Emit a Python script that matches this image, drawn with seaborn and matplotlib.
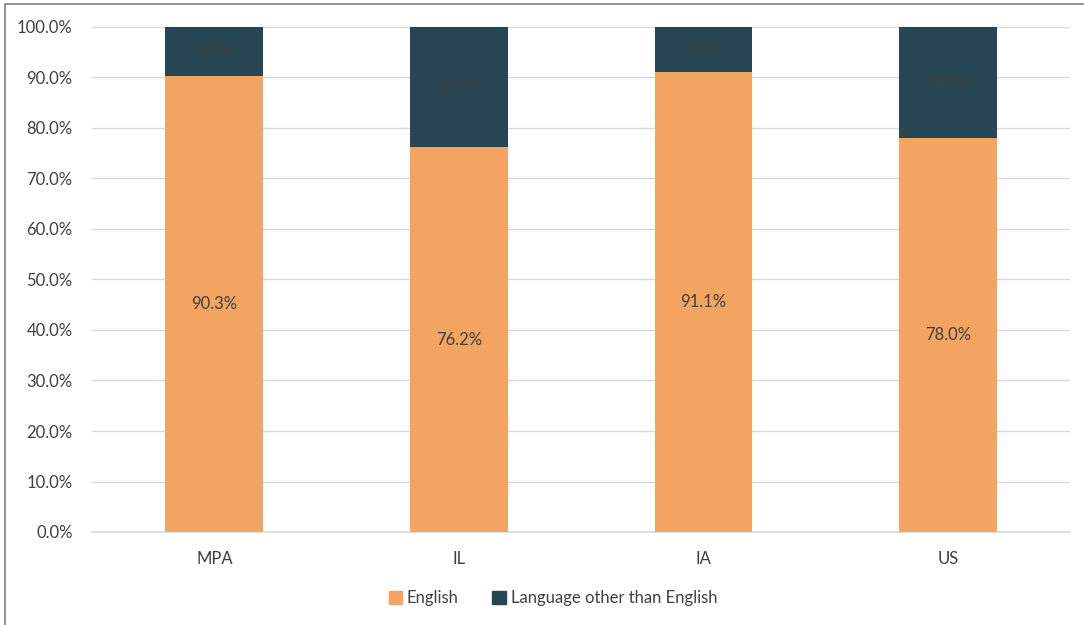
import matplotlib
matplotlib.use('Agg')
import matplotlib.pyplot as plt
import seaborn as sns
import pandas as pd
from matplotlib.patches import Patch, Rectangle
from matplotlib.ticker import FuncFormatter

# values (percent)
regions = ['MPA', 'IL', 'IA', 'US']
english = [90.3, 76.2, 91.1, 78.0]
other_lang = [9.7, 23.8, 8.9, 22.0]

orange = '#F3A461'
dark = '#264653'
text_col = '#404040'

sns.set_theme(style='white')
plt.rcParams['font.family'] = ['Lato', 'DejaVu Sans']

df = pd.DataFrame({'region': regions, 'english': english, 'other': other_lang})
df['total'] = df['english'] + df['other']

fig = plt.figure(figsize=(10.84, 6.25), dpi=100)
ax = fig.add_axes([0.0849, 0.1488, 0.9025, 0.808])

# stacked bars: the full stack in dark, English drawn over it
sns.barplot(data=df, x='region', y='total', color=dark, width=0.4,
            saturation=1, ax=ax, zorder=2, edgecolor='none', linewidth=0)
sns.barplot(data=df, x='region', y='english', color=orange, width=0.4,
            saturation=1, ax=ax, zorder=3, edgecolor='none', linewidth=0)

for i, row in df.iterrows():
    ax.text(i, row['english'] / 2, f"{row['english']:.1f}%", ha='center', va='center',
            fontsize=12, color=text_col, zorder=4)
    ax.text(i, row['english'] + row['other'] / 2, f"{row['other']:.1f}%", ha='center',
            va='center', fontsize=12, color=text_col, zorder=4)

ax.set_ylim(0, 100)
ax.set_xlim(-0.5, 3.5)
ax.set_yticks(range(0, 101, 10))
ax.yaxis.set_major_formatter(FuncFormatter(lambda v, p: f'{v:.1f}%'))
ax.grid(axis='y', color='#D9D9D9', linewidth=1, zorder=0)
ax.set_axisbelow(True)
for s in ['top', 'right', 'left']:
    ax.spines[s].set_visible(False)
ax.spines['bottom'].set_color('#D9D9D9')
ax.spines['bottom'].set_linewidth(1.2)
ax.tick_params(axis='both', length=0, labelsize=12, labelcolor=text_col)
ax.tick_params(axis='x', pad=14)
ax.tick_params(axis='y', pad=14)
ax.set_xlabel('')
ax.set_ylabel('')

handles = [Patch(color=orange, label='English'),
           Patch(color=dark, label='Language other than English')]
fig.legend(handles=handles, loc='center', bbox_to_anchor=(0.51, 0.043), ncol=2,
           frameon=False, fontsize=12, handlelength=0.8, handleheight=0.8,
           handletextpad=0.3, columnspacing=2.0, labelcolor=text_col)

# outer chart frame
fig.patches.append(Rectangle((5 / 1084, -0.05), 1.2, 1 - 4 / 625 + 0.05, transform=fig.transFigure,
                             fill=False, edgecolor='#808080', linewidth=1.2))

fig.savefig('out.png', dpi=100)
